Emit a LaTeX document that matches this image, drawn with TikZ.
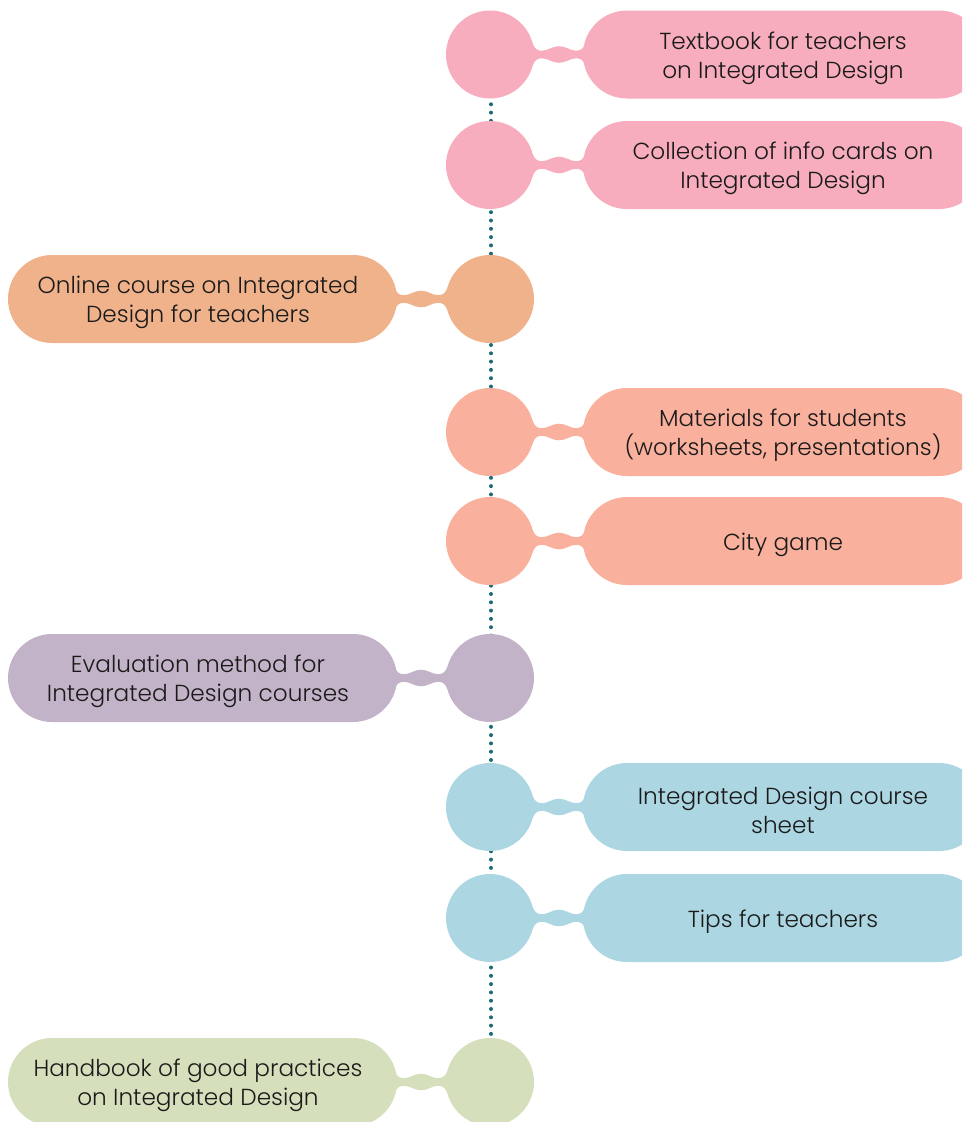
\documentclass[tikz,border=0pt]{standalone}
\usepackage{fontspec}
\setmainfont{Poppins}[UprightFont=* Light]
\definecolor{cpink}{HTML}{F7ADBD}
\definecolor{corange}{HTML}{F0B28B}
\definecolor{csalmon}{HTML}{F9B09D}
\definecolor{cpurple}{HTML}{C2B3C8}
\definecolor{cblue}{HTML}{ACD6E2}
\definecolor{cgreen}{HTML}{D6DFBB}
\definecolor{cteal}{HTML}{1A6D76}
\definecolor{ctext}{HTML}{1A1A1A}
\tikzset{
  circ/.style={circle, minimum size=88pt, inner sep=0pt},
  pill/.style={rectangle, rounded corners=44pt, minimum height=88pt, inner sep=0pt},
  rpill/.style={pill, minimum width=400pt},
  lpill/.style={pill, minimum width=389pt},
  lbl/.style={align=center, text=ctext, inner sep=0pt, font=\fontsize{23.2}{29}\selectfont, yshift=-3.5pt},
  llbl/.style={lbl, xshift=-4.5pt},
  dots/.style={cteal, line width=4pt, line cap=round, dash pattern=on 0pt off 8.3pt},
  pics/neck/.style={code={
    \fill[#1] (38,-22) -- (42.6,-11)
      .. controls (45,-5) and (48,-3.8) .. (52,-3.8)
      .. controls (58,-3.8) and (62,-8.3) .. (69,-8.3)
      .. controls (76,-8.3) and (80,-3.8) .. (86,-3.8)
      .. controls (90,-3.8) and (93,-5) .. (95.4,-11)
      -- (100,-22) -- (100,22) -- (95.4,11)
      .. controls (93,5) and (90,3.8) .. (86,3.8)
      .. controls (80,3.8) and (76,8.3) .. (69,8.3)
      .. controls (62,8.3) and (58,3.8) .. (52,3.8)
      .. controls (48,3.8) and (45,5) .. (42.6,11)
      -- (38,22) -- cycle;
  }}
}
\begin{document}
\begin{tikzpicture}[x=1pt, y=-1pt]
\useasboundingbox (0,0) rectangle (962,1122);
\clip (0,0) rectangle (962,1122);
% dotted spine
\coordinate (top) at (491,54.5);
\coordinate (bot) at (491,1082);
\draw[dots] (top) -- (bot);
% row 1
\node[circ, fill=cpink] (c1) at (490,54.5) {};
\node[rpill, fill=cpink] (p1) at (783,54.5) {};
\node[lbl] (t1) at (p1.center) {Textbook for teachers\\on Integrated Design};
\pic at (c1.center) {neck=cpink};
% row 2
\node[circ, fill=cpink] (c2) at (490,165) {};
\node[rpill, fill=cpink] (p2) at (783,165) {};
\node[lbl] (t2) at (p2.center) {Collection of info cards on\\Integrated Design};
\pic at (c2.center) {neck=cpink};
% row 3
\node[circ, fill=corange] (c3) at (490,299) {};
\node[lpill, fill=corange] (p3) at (202.5,299) {};
\node[llbl] (t3) at (p3.center) {Online course on Integrated\\Design for teachers};
\pic[xscale=-1] at (c3.center) {neck=corange};
% row 4
\node[circ, fill=csalmon] (c4) at (490,432) {};
\node[rpill, fill=csalmon] (p4) at (783,432) {};
\node[lbl] (t4) at (p4.center) {Materials for students\\(worksheets, presentations)};
\pic at (c4.center) {neck=csalmon};
% row 5
\node[circ, fill=csalmon] (c5) at (490,541) {};
\node[rpill, fill=csalmon] (p5) at (783,541) {};
\node[lbl] (t5) at (p5.center) {City game};
\pic at (c5.center) {neck=csalmon};
% row 6
\node[circ, fill=cpurple] (c6) at (490,678) {};
\node[lpill, fill=cpurple] (p6) at (202.5,678) {};
\node[llbl] (t6) at (p6.center) {Evaluation method for\\Integrated Design courses};
\pic[xscale=-1] at (c6.center) {neck=cpurple};
% row 7
\node[circ, fill=cblue] (c7) at (490,807) {};
\node[rpill, fill=cblue] (p7) at (783,807) {};
\node[lbl] (t7) at (p7.center) {Integrated Design course\\sheet};
\pic at (c7.center) {neck=cblue};
% row 8
\node[circ, fill=cblue] (c8) at (490,918) {};
\node[rpill, fill=cblue] (p8) at (783,918) {};
\node[lbl] (t8) at (p8.center) {Tips for teachers};
\pic at (c8.center) {neck=cblue};
% row 9
\node[circ, fill=cgreen] (c9) at (490,1082) {};
\node[lpill, fill=cgreen] (p9) at (202.5,1082) {};
\node[llbl] (t9) at (p9.center) {Handbook of good practices\\on Integrated Design};
\pic[xscale=-1] at (c9.center) {neck=cgreen};
\end{tikzpicture}
\end{document}
